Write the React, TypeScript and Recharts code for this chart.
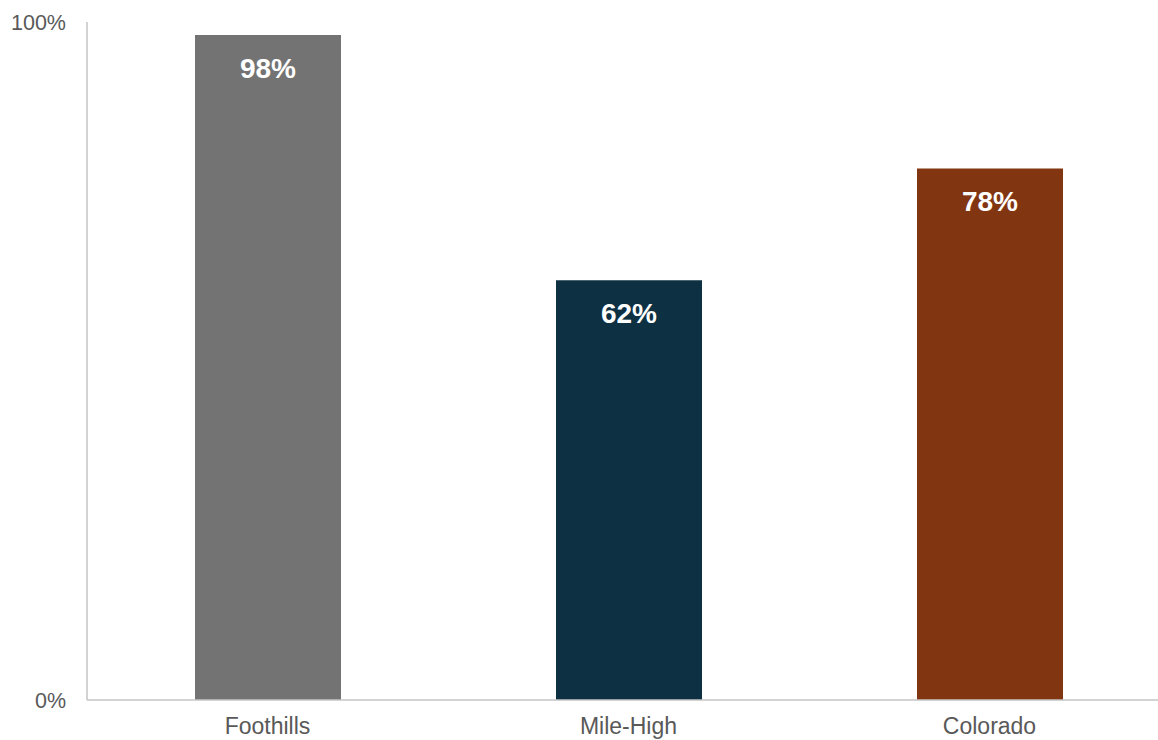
import React from "react";
import { BarChart, Bar, XAxis, YAxis, Cell, LabelList } from "recharts";

const categories = ["Foothills", "Mile-High", "Colorado"];
const values = [98.1, 61.9, 78.4];
const barLabels = ["98%", "62%", "78%"];
const colors = ["#737373", "#0E3043", "#823511"];
const yTicks = [0, 100];
const yTickLabels = ["0%", "100%"];

const data = categories.map((c, i) => ({ name: c, value: values[i], label: barLabels[i] }));

const axisFont = "'Liberation Sans', Arial, sans-serif";

const YTick = (props: any) => {
  const { y, payload } = props;
  const idx = yTicks.indexOf(payload.value);
  return (
    <text x={66} y={y} dy="0.35em" textAnchor="end" fill="#595959" fontSize={21.5} fontFamily={axisFont}>
      {yTickLabels[idx]}
    </text>
  );
};

const XTick = (props: any) => {
  const { x, payload } = props;
  return (
    <text x={x} y={734} textAnchor="middle" fill="#595959" fontSize={23} fontFamily={axisFont}>
      {payload.value}
    </text>
  );
};

const BarLabel = (props: any) => {
  const { x, y, width, value } = props;
  return (
    <text x={x + width / 2} y={y + 43} textAnchor="middle" fill="#ffffff" fontSize={28} fontWeight="bold" fontFamily={axisFont}>
      {value}
    </text>
  );
};

export default function App() {
  return (
    <div style={{ position: "absolute", left: 0, top: 0, width: 1158, height: 740, overflow: "hidden", background: "#fff" }}>
      <BarChart width={1170} height={740} data={data} margin={{ top: 22, right: 0, bottom: 0, left: 0 }} barCategoryGap="0%">
        <XAxis
          dataKey="name"
          height={40}
          tickLine={false}
          axisLine={{ stroke: "#c4c4c4", strokeWidth: 1.5 }}
          tick={<XTick />}
          interval={0}
        />
        <YAxis
          width={87}
          domain={[0, 100]}
          ticks={yTicks}
          tickLine={false}
          axisLine={{ stroke: "#c4c4c4", strokeWidth: 1.5 }}
          tick={<YTick />}
        />
        <Bar dataKey="value" barSize={146} isAnimationActive={false}>
          {data.map((d, i) => (
            <Cell key={d.name} fill={colors[i]} />
          ))}
          <LabelList dataKey="label" content={<BarLabel />} />
        </Bar>
      </BarChart>
    </div>
  );
}
